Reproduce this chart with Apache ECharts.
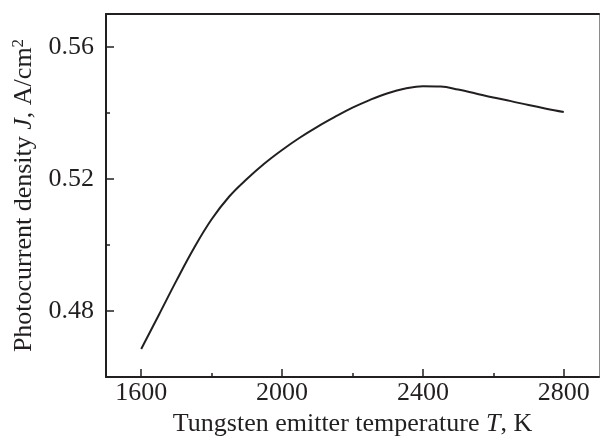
<!DOCTYPE html>
<html>
<head>
<meta charset="utf-8">
<script src="https://cdn.jsdelivr.net/npm/echarts@6/dist/echarts.min.js"></script>
<style>
html,body{margin:0;padding:0;background:#fff;}
#main{width:600px;height:443px;}
</style>
</head>
<body>
<div id="main"></div>
<script>
// 数据
var temperature = [1600, 1650, 1700, 1750, 1800, 1850, 1900, 1950, 2000, 2050, 2100, 2150, 2200, 2250, 2300, 2350, 2400, 2450, 2500, 2550, 2600, 2650, 2700, 2750, 2800];
var density = [0.4685, 0.4788, 0.4892, 0.4991, 0.5078, 0.5147, 0.5200, 0.5247, 0.5288, 0.5325, 0.5358, 0.5388, 0.5416, 0.5440, 0.5460, 0.5474, 0.5481, 0.5480, 0.5471, 0.5459, 0.5447, 0.5436, 0.5424, 0.5413, 0.5403];
var xMajorTicks = [1600, 2000, 2400, 2800];
var xMinorTicks = [1800, 2200, 2600];
var yMajorTicks = [0.48, 0.52, 0.56];
var yMinorTicks = [0.50, 0.54];

var points = [];
for (var i = 0; i < temperature.length; i++) {
	points.push([temperature[i], density[i]]);
}

var font = "'Liberation Serif', 'Times New Roman', serif";
var ink = '#231f20';

var myChart = echarts.init(document.getElementById('main'));

var option = {
	backgroundColor: '#fff',
	animation: false,
	grid: {
		left: 106,
		right: 1,
		top: 14,
		bottom: 66
	},
	xAxis: [
		{
			type: 'value',
			min: 1500,
			max: 2900,
			position: 'bottom',
			splitLine: {show: false},
			axisLine: {show: true, lineStyle: {color: ink, width: 2}},
			axisTick: {inside: true, length: 8, lineStyle: {color: ink, width: 1.5}, customValues: xMajorTicks},
			axisLabel: {
				customValues: xMajorTicks,
				color: ink, fontFamily: font, fontSize: 26, margin: 3,
				formatter: function (v) { return String(v); }
			},
			name: '{n|Tungsten emitter temperature }{i|T}{n|, K}',
			nameLocation: 'middle',
			nameGap: 28,
			nameTextStyle: {
				rich: {
					n: {fontFamily: font, fontSize: 26, color: ink},
					i: {fontFamily: font, fontSize: 26, color: ink, fontStyle: 'italic'}
				}
			}
		},
		{
			type: 'value',
			min: 1500,
			max: 2900,
			position: 'bottom',
			splitLine: {show: false},
			axisLine: {show: false},
			axisTick: {inside: true, length: 4, lineStyle: {color: ink, width: 1.5}, customValues: xMinorTicks},
			axisLabel: {show: false}
		},
		{
			type: 'value',
			min: 1500,
			max: 2900,
			position: 'top',
			splitLine: {show: false},
			axisLine: {show: true, lineStyle: {color: ink, width: 2}},
			axisTick: {show: false},
			axisLabel: {show: false}
		}
	],
	yAxis: [
		{
			type: 'value',
			min: 0.46,
			max: 0.57,
			position: 'left',
			splitLine: {show: false},
			axisLine: {show: true, lineStyle: {color: ink, width: 2}},
			axisTick: {inside: true, length: 8, lineStyle: {color: ink, width: 1.5}, customValues: yMajorTicks},
			axisLabel: {
				customValues: yMajorTicks,
				color: ink, fontFamily: font, fontSize: 26, margin: 12,
				formatter: function (v) { return v.toFixed(2); }
			},
			name: '{n|Photocurrent density }{i|J}{n|, A/cm}{s|2}',
			nameLocation: 'middle',
			nameGap: 66,
			nameTextStyle: {
				rich: {
					n: {fontFamily: font, fontSize: 26, color: ink, lineHeight: 30},
					i: {fontFamily: font, fontSize: 26, color: ink, fontStyle: 'italic', lineHeight: 30},
					s: {fontFamily: font, fontSize: 17, color: ink, verticalAlign: 'top', lineHeight: 30}
				}
			}
		},
		{
			type: 'value',
			min: 0.46,
			max: 0.57,
			position: 'left',
			splitLine: {show: false},
			axisLine: {show: false},
			axisTick: {inside: true, length: 4, lineStyle: {color: ink, width: 1.5}, customValues: yMinorTicks},
			axisLabel: {show: false}
		},
		{
			type: 'value',
			min: 0.46,
			max: 0.57,
			position: 'right',
			splitLine: {show: false},
			axisLine: {show: true, lineStyle: {color: '#8a8a8a', width: 1}},
			axisTick: {show: false},
			axisLabel: {show: false}
		}
	],
	series: [
		{
			type: 'line',
			xAxisIndex: 0,
			yAxisIndex: 0,
			data: points,
			smooth: 0.4,
			showSymbol: false,
			lineStyle: {color: ink, width: 2}
		}
	]
};

myChart.setOption(option);
</script>
</body>
</html>
